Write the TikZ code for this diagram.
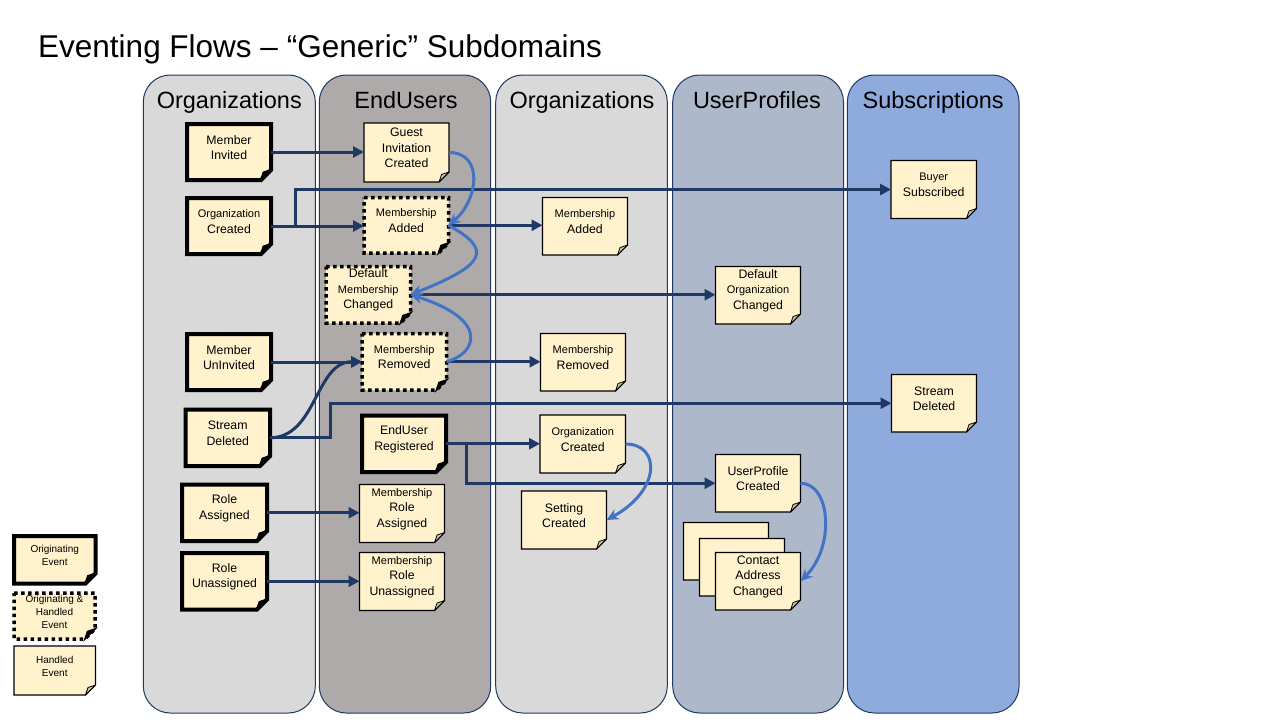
\documentclass[tikz,border=0pt]{standalone}
\usepackage{fontspec}
\setmainfont{Liberation Sans}
\usetikzlibrary{arrows.meta}
\definecolor{laneA}{HTML}{D9D9D9}
\definecolor{laneB}{HTML}{AEAAAA}
\definecolor{laneC}{HTML}{ADB9CA}
\definecolor{laneD}{HTML}{8FAADC}
\definecolor{laneline}{HTML}{1F3864}
\definecolor{notefill}{HTML}{FFF2CC}
\definecolor{foldfill}{HTML}{CDC3A6}
\definecolor{navyc}{HTML}{203864}
\definecolor{accentc}{HTML}{4472C4}
\newcommand\fc{10}
\newcommand\smtxt[1]{{\fontsize{11}{15.5}\selectfont #1}}
% #1 extra label options, #2 type, #3 name, #4 x1, #5 y1, #6 x2, #7 y2, #8 text
\newcommand\snote[8][]{%
  \pgfmathsetmacro\snw{#6-#4}%
  \pgfmathsetmacro\snh{#7-#5}%
  \pgfmathsetmacro\sncx{(#4+#6)/2}%
  \pgfmathsetmacro\sncy{(#5+#7)/2}%
  \path[#2] (#4,#5) -- (#6,#5) -- (#6,#7-\fc) -- (#6-\fc,#7) -- (#4,#7) -- cycle;
  \path[#2 fold] (#6,#7-\fc) -- (#6-0.75*\fc,#7-0.75*\fc) -- (#6-\fc,#7) -- cycle;
  \node[noteanchor, minimum width=\snw pt, minimum height=\snh pt] (#3) at (\sncx,\sncy) {};
  \node[notelabel, #1] (#3-txt) at (\sncx,\sncy-4.5) {#8};
}
\begin{document}
\begin{tikzpicture}[x=1pt,y=-1pt,
  lanebox/.style={draw=laneline, line width=1pt, rounded corners=27pt, minimum height=638pt, inner sep=0pt, outer sep=0pt},
  lanetitle/.style={font=\fontsize{23.5}{28}\selectfont, anchor=base, inner sep=0pt},
  noteanchor/.style={inner sep=0pt, outer sep=0pt},
  notelabel/.style={inner sep=0pt, outer sep=0pt, align=center, font=\fontsize{12.3}{15.5}\selectfont, text=black},
  legendfont/.style={font=\fontsize{10}{13}\selectfont},
  noteO/.style={fill=notefill, draw=black, line width=4pt, line join=miter},
  noteO fold/.style={fill=black, draw=black, line width=2pt, line join=round},
  noteOH/.style={fill=notefill, draw=black, line width=3.5pt, dash pattern=on 3.5pt off 3.5pt},
  noteOH fold/.style={fill=black, draw=black, line width=1.5pt},
  noteH/.style={fill=notefill, draw=black, line width=1.1pt, line join=miter},
  noteH fold/.style={fill=foldfill, draw=black, line width=0.8pt, line join=round},
  navyflow/.style={draw=navyc, line width=3pt, -{Triangle[length=11pt,width=11pt]}},
  blueflow/.style={draw=accentc, line width=3pt, -{Stealth[length=12pt,width=11pt]}}
]
\useasboundingbox (0,0) rectangle (1280,720);
\fill[white] (0,0) rectangle (1280,720);

% title
\node[anchor=base west, inner sep=0pt, font=\fontsize{31.5}{36}\selectfont] (title) at (38,57) {Eventing Flows – “Generic” Subdomains};

% lanes
\node[lanebox, fill=laneA, minimum width=172pt] (L1) at (229.3,394) {};
\node[lanebox, fill=laneB, minimum width=171.4pt] (L2) at (405,394) {};
\node[lanebox, fill=laneA, minimum width=171.6pt] (L3) at (581.5,394) {};
\node[lanebox, fill=laneC, minimum width=170.8pt] (L4) at (758.1,394) {};
\node[lanebox, fill=laneD, minimum width=171.7pt] (L5) at (933.2,394) {};
\node[lanetitle] (T1) at (229.3,108) {Organizations};
\node[lanetitle] (T2) at (406,108) {EndUsers};
\node[lanetitle] (T3) at (582,108) {Organizations};
\node[lanetitle] (T4) at (757,108) {UserProfiles};
\node[lanetitle] (T5) at (933.2,108) {Subscriptions};

% lane 1: Organizations (originating)
\snote{noteO}{mi}{187}{124}{271}{180}{Member\\Invited}
\snote{noteO}{oc}{187}{198}{271}{254}{\smtxt{Organization}\\Created}
\snote{noteO}{mu}{187}{334}{271}{390}{Member\\UnInvited}
\snote{noteO}{sd}{185.5}{409.5}{270}{466}{Stream\\Deleted}
\snote{noteO}{ra}{182}{484.5}{267}{541}{Role\\Assigned}
\snote{noteO}{ru}{182}{553}{267}{609.5}{Role\\Unassigned}

% lane 2: EndUsers
\snote{noteH}{gic}{364}{123}{449}{182}{Guest\\Invitation\\Created}
\snote{noteOH}{ma}{364}{197.5}{448.5}{253}{\smtxt{Membership}\\Added}
\snote{noteOH}{dmc}{326}{266.5}{410.5}{323}{Default\\\smtxt{Membership}\\Changed}
\snote{noteOH}{mr}{362}{333.5}{446.5}{390}{\smtxt{Membership}\\Removed}
\snote{noteO}{eur}{362}{415.5}{446}{472}{EndUser\\Registered}
\snote{noteH}{mra}{359.5}{484.5}{444.5}{542.5}{\smtxt{Membership}\\Role\\Assigned}
\snote{noteH}{mru}{359.5}{552.5}{444.5}{610.5}{\smtxt{Membership}\\Role\\Unassigned}

% lane 3: Organizations
\snote{noteH}{ma3}{542.5}{197.5}{627.5}{255}{\smtxt{Membership}\\Added}
\snote{noteH}{mr3}{540.5}{333.5}{625.5}{391}{\smtxt{Membership}\\Removed}
\snote{noteH}{oc3}{540}{415}{625.5}{473}{\smtxt{Organization}\\Created}
\snote{noteH}{setc}{521.5}{491}{606.5}{549}{Setting\\Created}

% lane 4: UserProfiles
\snote{noteH}{doc}{715.5}{266.5}{800.5}{324}{Default\\\smtxt{Organization}\\Changed}
\snote{noteH}{upc}{715.5}{454.5}{800.5}{512}{UserProfile\\Created}
\snote{noteH}{cacA}{683.5}{522.5}{768.5}{580}{}
\snote{noteH}{cacB}{699.5}{538.5}{784.5}{596}{}
\snote{noteH}{cac}{715.5}{552.5}{800.5}{610}{Contact\\Address\\Changed}

% lane 5: Subscriptions
\snote{noteH}{bs}{891}{160.5}{976.5}{218.5}{\smtxt{Buyer}\\Subscribed}
\snote{noteH}{sd5}{891.5}{374.5}{976.5}{432}{Stream\\Deleted}

% legend
\snote[legendfont]{noteO}{lo}{14}{536}{95.5}{583.5}{Originating\\Event}
\snote[legendfont]{noteOH}{loh}{14}{593}{95}{639}{Originating \&\\Handled\\Event}
\snote[legendfont]{noteH}{lh}{14}{646}{95.5}{695}{Handled\\Event}

% branch points
\coordinate (b1) at (295.5,189.5);
\coordinate (b2) at (330.5,403.25);
\coordinate (b3) at (466,483.25);

% navy flows
\draw[navyflow] (mi.east) -- (mi.east -| gic.west);
\draw[navyflow] (oc.east) -- (oc.east -| ma.west);
\draw[navyflow] (oc.east) -| (b1) -- (bs.west);
\draw[navyflow] (ma.east) -- (ma.east -| ma3.west);
\draw[navyflow] (dmc.east) -- (dmc.east -| doc.west);
\draw[navyflow] (mu.east) -- (mu.east -| mr.west);
\draw[navyflow] (sd.east) to[out=0,in=180] (mr.west);
\draw[navyflow] (sd.east) -| (b2) -- (sd5.west);
\draw[navyflow] (mr.east) -- (mr.east -| mr3.west);
\draw[navyflow] (eur.east) -- (eur.east -| oc3.west);
\draw[navyflow] (eur.east) -| (b3) -- (upc.west);
\draw[navyflow] (ra.east) -- (ra.east -| mra.west);
\draw[navyflow] (ru.east) -- (ru.east -| mru.west);

% blue internal flows
\draw[blueflow] (gic.east) .. controls +(35,0) and +(30,-25) .. (ma.east);
\draw[blueflow] (ma.east) .. controls +(45,25) and +(75,-30) .. (dmc.east);
\draw[blueflow] (mr.east) .. controls +(30,-8) and +(80,25) .. (dmc.east);
\draw[blueflow] (oc3.east) .. controls +(35,0) and +(55,-30) .. (setc.east);
\draw[blueflow] (upc.east) .. controls +(30,0) and +(35,-35) .. (cac.east);
\end{tikzpicture}
\end{document}
